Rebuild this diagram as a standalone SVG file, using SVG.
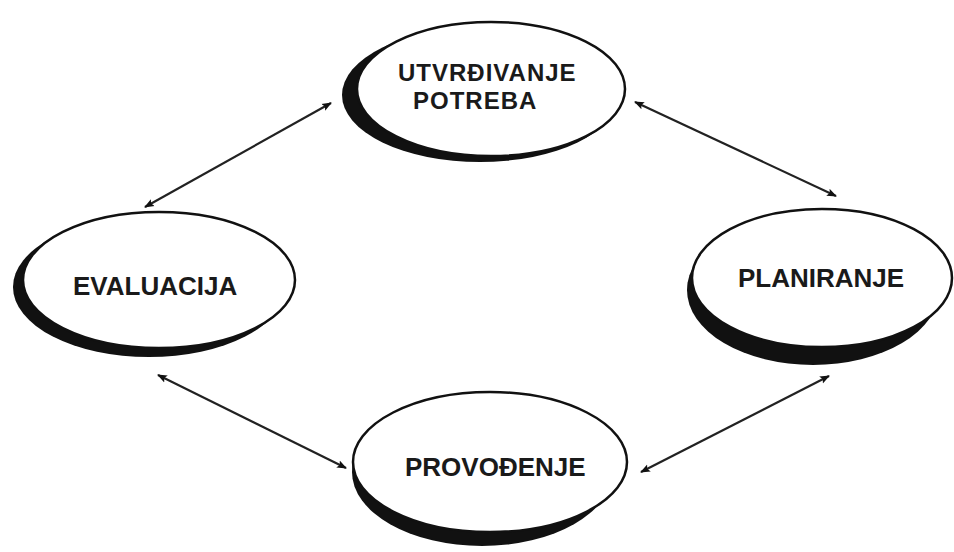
<svg xmlns="http://www.w3.org/2000/svg" width="954" height="552" viewBox="0 0 954 552">
<defs>
<style>
.sh{fill:#111}
.el{fill:#fff;stroke:#111;stroke-width:2.5}
.t{font-family:"Liberation Sans",Arial,sans-serif;font-weight:bold;font-size:26px;fill:#1a1a1a}
.t2{font-size:24px;letter-spacing:1px}
.c{stroke:#222;stroke-width:2.2;fill:none;marker-start:url(#ah);marker-end:url(#ah)}
</style>
<marker id="ah" viewBox="0 0 10 10" refX="9" refY="5" markerWidth="4.5" markerHeight="4.5" orient="auto-start-reverse">
<path d="M0,1 L10,5 L0,9 L2,5 Z" fill="#111"/>
</marker>
</defs>
<rect width="954" height="552" fill="#fff"/>
<g id="connectors">
<line class="c" x1="331" y1="103" x2="145" y2="207"/>
<line class="c" x1="635" y1="102" x2="836" y2="196"/>
<line class="c" x1="158" y1="375" x2="346" y2="468"/>
<line class="c" x1="641" y1="472" x2="829" y2="376"/>
</g>
<g id="utvrdivanje">
<ellipse class="sh" cx="480" cy="95" rx="138" ry="67"/>
<ellipse class="el" cx="491" cy="89" rx="134" ry="67"/>
<text class="t t2" x="398" y="81">UTVRĐIVANJE</text>
<text class="t t2" x="413" y="109">POTREBA</text>
</g>
<g id="evaluacija">
<ellipse class="sh" cx="149" cy="287" rx="136" ry="70"/>
<ellipse class="el" cx="159" cy="280" rx="136" ry="68"/>
<text class="t" x="73" y="295">EVALUACIJA</text>
</g>
<g id="planiranje">
<ellipse class="sh" cx="813" cy="290" rx="126" ry="75"/>
<ellipse class="el" cx="822" cy="278" rx="130" ry="69"/>
<text class="t" x="738" y="287">PLANIRANJE</text>
</g>
<g id="provodenje">
<ellipse class="sh" cx="482" cy="472" rx="130" ry="74"/>
<ellipse class="el" cx="490" cy="462" rx="137" ry="70"/>
<text class="t" x="405" y="476">PROVOĐENJE</text>
</g>
</svg>
